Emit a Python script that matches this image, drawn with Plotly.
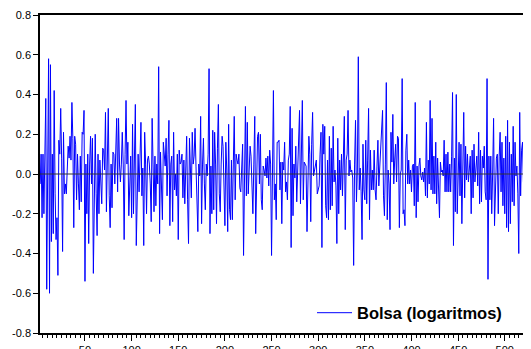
import plotly.graph_objects as go

# Log returns of the stock index ("Bolsa (logaritmos)"), observations 2..528,
# read off the reference picture in blocks of about fifty observations.
first_obs = 2
block_a = [-0.05, 0.10, -0.22, 0.10, -0.20, 0.20, 0.38, -0.58, 0.10, 0.58,
           -0.60, 0.55, -0.34, 0.10, -0.30, 0.42, -0.10, -0.33, -0.22, -0.51,
           0.17, 0.10, 0.33, 0.08, -0.39, 0.21, -0.10, -0.05, -0.10, 0.05,
           0.14, 0.08, 0.19, 0.07, 0.36, 0.18, -0.27, 0.19, 0.15, -0.13,
           0.10, -0.05, -0.18, 0.09, -0.14, 0.21, 0.20, 0.32, -0.54]
block_b = [0.05, -0.20, 0.10, -0.35, 0.05, 0.19, -0.05, 0.18, -0.50, 0.05,
           0.20, -0.10, -0.31, 0.10, -0.20, 0.07, -0.05, -0.15, 0.13, 0.12,
           0.02, 0.31, -0.19, 0.10, 0.33, -0.11, -0.27, 0.05, -0.17, 0.11,
           0.10, -0.05, 0.10, 0.28, -0.09, 0.28, 0.05, -0.04, 0.05, 0.21,
           0.05, -0.33, 0.10, 0.37, 0.05, 0.16, -0.21, 0.02, 0.09, -0.22,
           0.25, -0.20]
block_c = [0.05, 0.35, -0.36, -0.05, 0.10, -0.09, 0.05, 0.26, -0.11, 0.03,
           -0.36, 0.21, 0.05, -0.20, 0.07, 0.09, 0.05, -0.05, -0.24, 0.28,
           0.05, -0.19, 0.09, -0.16, 0.05, -0.05, 0.54, -0.30, 0.11, -0.10,
           -0.23, 0.16, 0.06, 0.04, 0.18, -0.11, 0.10, 0.27, -0.26, 0.05,
           0.09, -0.24, 0.21, -0.08, 0.00, -0.11, 0.10, -0.33, 0.12, 0.05,
           0.06]
block_d = [0.10, -0.12, 0.07, -0.15, 0.05, 0.19, -0.13, -0.35, 0.18, 0.02,
           -0.12, 0.21, 0.05, 0.09, 0.23, 0.04, -0.15, -0.29, 0.05, -0.01,
           0.29, -0.25, 0.05, 0.18, -0.05, -0.18, 0.05, -0.01, 0.10, 0.53,
           -0.30, 0.04, -0.20, 0.22, -0.18, 0.21, 0.05, -0.25, 0.13, 0.35,
           -0.10, -0.19, 0.05, 0.19, 0.14, -0.05, -0.26, 0.16, 0.02, -0.29,
           0.25, -0.18]
block_e = [-0.23, 0.07, -0.23, 0.05, 0.29, -0.13, 0.10, 0.07, 0.05, 0.10,
           -0.07, -0.09, 0.05, 0.15, -0.41, 0.10, 0.34, -0.11, 0.26, -0.10,
           0.05, 0.14, 0.09, -0.10, -0.20, 0.05, 0.29, -0.30, 0.05, 0.19,
           0.21, -0.05, 0.20, -0.13, -0.18, 0.04, 0.02, -0.01, 0.08, -0.02,
           0.09, -0.06, 0.12, 0.05, -0.41, 0.20, 0.42, -0.13, -0.05, -0.23,
           0.16]
block_f = [0.16, 0.17, -0.08, 0.06, -0.25, 0.06, 0.02, 0.16, -0.09, -0.04,
           -0.13, 0.07, 0.10, 0.34, -0.37, 0.23, -0.21, 0.05, -0.02, 0.14,
           -0.14, 0.02, 0.09, 0.32, -0.15, 0.06, 0.37, -0.13, 0.06, 0.05,
           0.04, -0.29, -0.08, 0.19, 0.10, -0.24, 0.15, 0.31, -0.01, 0.02,
           0.04, 0.07, -0.10, -0.08, -0.06, 0.10, 0.21, -0.37, 0.25, 0.10,
           0.24, -0.16]
block_g = [-0.22, 0.07, -0.23, 0.19, -0.18, 0.13, -0.16, 0.24, -0.04, 0.02,
           -0.06, -0.35, 0.18, -0.20, 0.07, -0.08, 0.10, -0.11, 0.05, 0.29,
           -0.28, 0.07, 0.10, 0.32, -0.01, 0.07, 0.01, 0.02, -0.02, -0.46,
           0.05, 0.27, -0.14, 0.02, 0.59, -0.08, 0.03, -0.09, -0.33, 0.15,
           -0.08, -0.13, 0.17, -0.15, 0.07, 0.33, -0.23, 0.12, -0.08]
block_h = [0.02, -0.08, 0.12, -0.08, -0.13, 0.04, 0.17, -0.06, 0.05, 0.12,
           0.29, 0.32, -0.11, -0.21, 0.05, 0.46, -0.23, 0.02, -0.05, -0.28,
           0.21, 0.06, 0.30, -0.05, 0.07, 0.15, -0.04, 0.19, 0.18, -0.27,
           0.00, 0.02, 0.48, -0.20, -0.18, -0.26, 0.12, 0.20, -0.05, 0.07,
           -0.05, 0.02, -0.09, 0.04, 0.05, -0.16, 0.36, -0.22, 0.04, -0.14,
           0.04, 0.08, -0.01]
block_i = [-0.03, 0.01, -0.04, 0.03, -0.11, 0.26, -0.12, 0.07, -0.05, 0.37,
           -0.08, 0.28, -0.10, 0.09, -0.10, 0.16, -0.15, 0.08, -0.04, -0.22,
           0.06, 0.01, 0.02, -0.01, 0.17, -0.09, 0.10, -0.09, 0.11, -0.09,
           0.05, -0.09, 0.09, 0.41, -0.36, 0.08, -0.19, 0.40, -0.20, 0.02,
           0.16, -0.11, 0.15, -0.25, 0.14, 0.31, -0.12, 0.14, -0.03, 0.10,
           -0.04, 0.06]
block_j = [0.09, -0.20, 0.12, -0.12, 0.15, -0.04, 0.04, 0.09, -0.06, 0.21,
           -0.15, 0.12, -0.14, 0.09, 0.03, 0.14, -0.09, -0.13, 0.48, -0.53,
           0.09, -0.13, 0.09, -0.20, 0.01, 0.28, -0.26, -0.03, 0.08, 0.10,
           -0.20, 0.09, 0.21, -0.09, 0.16, -0.16, 0.08, -0.20, 0.19, -0.27,
           0.27, -0.29, 0.16, -0.25, 0.10, -0.14, 0.24, -0.16, 0.16, -0.01,
           0.04, -0.10, -0.40, 0.31, -0.11, 0.12, 0.16, -0.04, -0.09, -0.07,
           -0.14, 0.06, 0.05, -0.15, 0.22, -0.14]

series_name = "Bolsa (logaritmos)"
y_tick_values = [-0.8, -0.6, -0.4, -0.2, 0.0, 0.2, 0.4, 0.6, 0.8]
y_tick_labels = ["-0.8", "-0.6", "-0.4", "-0.2", "0.0", "0.2", "0.4", "0.6", "0.8"]
x_tick_values = [50, 100, 150, 200, 250, 300, 350, 400, 450, 500]
x_tick_labels = ["50", "100", "150", "200", "250", "300", "350", "400", "450", "500"]

values = (block_a + block_b + block_c + block_d + block_e + block_f
          + block_g + block_h + block_i + block_j)
obs = list(range(first_obs, first_obs + len(values)))

fig = go.Figure()
fig.add_trace(go.Scatter(
    x=obs, y=values, mode="lines", name=series_name,
    line=dict(color="#0000FF", width=1),
))

fig.add_hline(y=0, line=dict(color="#333333", width=1), layer="above")

# The page body keeps its default 8px margin, so the figure is drawn 8px in
# from the window's corner; margins are chosen with that offset in mind.
fig.update_layout(
    width=523, height=341,
    margin=dict(l=32, r=0, t=7, b=16, autoexpand=False),
    paper_bgcolor="white", plot_bgcolor="white",
    font=dict(family="Liberation Sans, Arial, sans-serif", size=11, color="#000"),
    showlegend=True,
    legend=dict(
        x=0.554, y=0.063, xanchor="left", yanchor="middle",
        itemwidth=35,
        bgcolor="rgba(255,255,255,0)", borderwidth=0,
        font=dict(family="Liberation Sans, Arial, sans-serif", size=16.5, color="#000",
                  weight="bold"),
    ),
)

fig.update_xaxes(
    range=[1.8, 528.1], automargin=False,
    tickvals=x_tick_values, ticktext=x_tick_labels,
    ticks="outside", ticklen=6, tickcolor="#000", tickwidth=1,
    minor=dict(dtick=5, tick0=0, ticks="outside", ticklen=3, tickcolor="#000", tickwidth=1),
    showgrid=False, zeroline=False,
    showline=True, linecolor="#000", linewidth=1.5, mirror=True,
    tickfont=dict(size=11, color="#000"),
)
fig.update_yaxes(
    range=[-0.8, 0.8], automargin=False,
    tickvals=y_tick_values, ticktext=y_tick_labels,
    ticks="outside", ticklen=5, tickcolor="#000", tickwidth=1,
    showgrid=False, zeroline=False,
    showline=True, linecolor="#000", linewidth=1.5, mirror=False,
    tickfont=dict(size=11, color="#000"),
)

fig.write_html("out.html")
